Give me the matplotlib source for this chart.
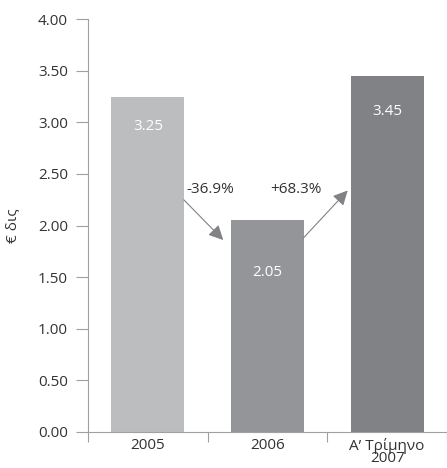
import matplotlib.pyplot as plt

plt.rcParams['font.family'] = ['Open Sans', 'DejaVu Sans']

# data
categories = ['2005', '2006', 'A\u2019 Τρίμηνο\n2007']
values = [3.25, 2.05, 3.45]
changes = ['-36.9%', '+68.3%']
colors = ['#bcbdbf', '#939598', '#808285']
label_drop = [30, 52, 36]  # px below bar top for the value labels

fig = plt.figure(figsize=(4.47, 4.68), dpi=100)
ax = fig.add_axes([0.197, 0.077, 0.803, 0.882])

x = range(len(categories))
ax.bar(x, values, width=0.61, color=colors)

for i, v in enumerate(values):
    ax.annotate(f'{v:.2f}', (i, v), xytext=(0, -label_drop[i]), textcoords='offset pixels',
                ha='center', va='center', color='white', fontsize=11)

# arrows between bars
arrow = dict(arrowstyle='-|>', color='#808285', lw=0.8, mutation_scale=22, shrinkA=0, shrinkB=0)
ax.annotate('', xy=(0.63, 1.86), xytext=(0.30, 2.25), arrowprops=arrow)
ax.annotate('', xy=(1.67, 2.34), xytext=(1.30, 1.88), arrowprops=arrow)
ax.text(0.32, 2.35, changes[0], ha='left', va='center', fontsize=11, color='#333333')
ax.text(1.02, 2.35, changes[1], ha='left', va='center', fontsize=11, color='#333333')

ax.set_ylim(0, 4)
ax.set_xlim(-0.48, 2.46)
ax.set_yticks([i * 0.5 for i in range(9)])
ax.set_yticklabels([f'{i * 0.5:.2f}' for i in range(9)])
ax.set_xticks(list(x))
ax.set_xticklabels(categories, linespacing=0.8)
ax.set_xticks([-0.5, 0.5, 1.5, 2.5], minor=True)

ax.tick_params(axis='y', length=8.5, width=0.8, color='#a0a0a0', labelsize=11,
               labelcolor='#333333', pad=6)
ax.tick_params(axis='x', which='major', length=0, labelsize=11, labelcolor='#333333', pad=4)
ax.tick_params(axis='x', which='minor', length=7, width=0.8, color='#a0a0a0')

for s in ['top', 'right']:
    ax.spines[s].set_visible(False)
for s in ['left', 'bottom']:
    ax.spines[s].set_color('#a0a0a0')
    ax.spines[s].set_linewidth(0.8)

ax.set_ylabel('€ δις', fontsize=11, color='#333333', labelpad=12)

fig.savefig('out.png', dpi=100)
